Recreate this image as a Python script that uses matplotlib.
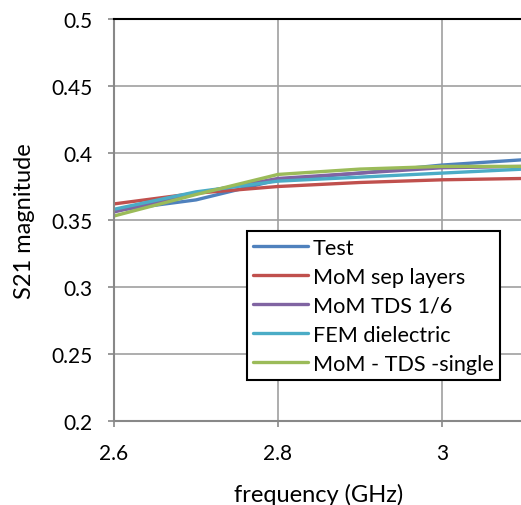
import numpy as np
import matplotlib.pyplot as plt

plt.rcParams['font.family'] = ['Lato', 'DejaVu Sans']

freq = [2.6, 2.7, 2.8, 2.9, 3.0, 3.1]

s21_test = [0.357, 0.365, 0.380, 0.385, 0.391, 0.395]
s21_mom_sep = [0.362, 0.370, 0.375, 0.378, 0.380, 0.381]
s21_mom_tds = [0.356, 0.370, 0.381, 0.385, 0.389, 0.390]
s21_fem = [0.358, 0.371, 0.379, 0.382, 0.385, 0.388]
s21_mom_single = [0.353, 0.369, 0.384, 0.388, 0.390, 0.390]

series = [
    ('Test', s21_test, '#4F81BD'),
    ('MoM sep layers', s21_mom_sep, '#C0504D'),
    ('MoM TDS 1/6', s21_mom_tds, '#8064A2'),
    ('FEM dielectric', s21_fem, '#4BACC6'),
    ('MoM - TDS -single', s21_mom_single, '#9BBB59'),
]

fig = plt.figure(figsize=(5.21, 5.06), dpi=100)
ax = fig.add_axes([114 / 521, 1 - 422 / 506, 410 / 521, 402 / 506])

for name, vals, col in series:
    ax.plot(freq, vals, color=col, linewidth=2.4, label=name, solid_capstyle='round')

ax.set_xlim(2.6, 3.1)
ax.set_ylim(0.2, 0.5)
ax.set_xticks([2.6, 2.8, 3.0])
ax.set_xticklabels(['2.6', '2.8', '3'])
ax.set_yticks([0.2, 0.25, 0.3, 0.35, 0.4, 0.45, 0.5])
ax.set_yticklabels(['0.2', '0.25', '0.3', '0.35', '0.4', '0.45', '0.5'])
ax.grid(True, color='#a0a0a0', linewidth=1.2)
ax.set_axisbelow(True)

for s in ['left', 'bottom']:
    ax.spines[s].set_color('#888888')
    ax.spines[s].set_linewidth(1.5)
ax.spines['top'].set_color('black')
ax.spines['top'].set_linewidth(1.5)
ax.spines['right'].set_visible(False)
ax.tick_params(axis='both', direction='out', length=4.5, width=1.2, color='#888888',
               labelsize=15)
ax.tick_params(axis='y', pad=11)
ax.tick_params(axis='x', pad=11)

ax.set_xlabel('frequency (GHz)', fontsize=17, labelpad=15)
ax.set_ylabel('S21 magnitude', fontsize=17, labelpad=12)

leg = ax.legend(loc='upper left', bbox_to_anchor=(0.324, 0.4726), fontsize=15.6,
                fancybox=False, framealpha=1, edgecolor='black', handlelength=2.5,
                handletextpad=0.25, labelspacing=0.42, borderpad=0.3, borderaxespad=0)
leg.get_frame().set_linewidth(1.5)

plt.savefig('out.png', dpi=100)
